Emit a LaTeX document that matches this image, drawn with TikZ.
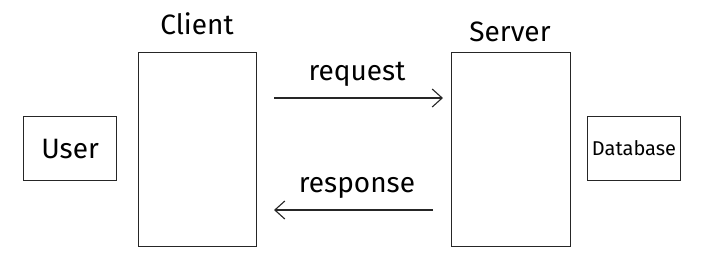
\documentclass[tikz,border=0pt]{standalone}
\usepackage{fontspec}
\setmainfont{Fira Sans}
\usetikzlibrary{arrows.meta}
\begin{document}
\begin{tikzpicture}[x=1pt,y=-1pt,
  box/.style={draw=black!85,line width=1.1pt,inner sep=0pt,anchor=north west},
  lbl/.style={inner sep=0pt,font=\fontsize{28}{32}\selectfont},
  conn/.style={draw=black!85,line width=1.1pt,-{Straight Barb[length=10pt,width=18pt,line width=1.1pt]}}]
\useasboundingbox (0,0) rectangle (704,269);
\node[box,minimum width=93pt,minimum height=64pt] (user) at (23,116) {};
\node[lbl] at (user.center) {User};
\node[box,minimum width=118pt,minimum height=194pt] (client) at (138,52) {};
\node[lbl,anchor=base] (clientlbl) at (197,34) {Client};
\node[box,minimum width=119pt,minimum height=194pt] (server) at (451,52) {};
\node[lbl,anchor=base] (serverlbl) at (510,41) {Server};
\node[box,minimum width=93pt,minimum height=64pt] (db) at (587,116) {};
\node[inner sep=0pt,font=\fontsize{20}{24}\selectfont] at (db.center) {Database};
\coordinate (rqs) at (274,98);
\coordinate (rqe) at (443,98);
\coordinate (rss) at (433,210);
\coordinate (rse) at (274,210);
\draw[conn] (rqs) -- (rqe);
\draw[conn] (rss) -- (rse);
\node[lbl,anchor=base] (rqlbl) at (357,80) {request};
\node[lbl,anchor=base] (rslbl) at (357,192) {response};
\end{tikzpicture}
\end{document}
